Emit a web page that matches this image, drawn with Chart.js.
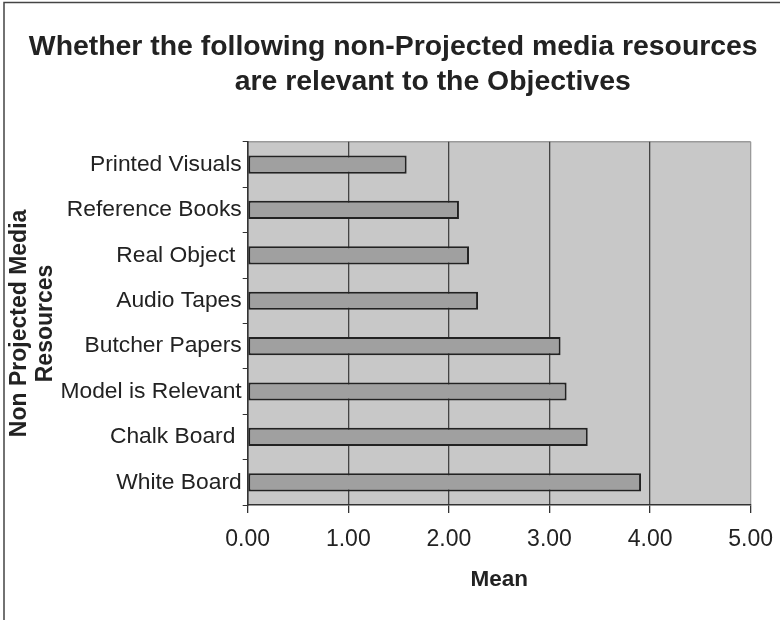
<!DOCTYPE html>
<html>
<head>
<meta charset="utf-8">
<script src="https://cdn.jsdelivr.net/npm/chart.js@4/dist/chart.umd.min.js"></script>
<style>
  html, body { margin: 0; padding: 0; background: #fff; }
  #wrap { width: 780px; height: 620px; }
</style>
</head>
<body>
<div id="wrap"><canvas id="chart" width="780" height="620"></canvas></div>
<script>
// second title line keeps its leading spaces, so it sits right of centre
const titleLines = ["Whether the following non-Projected media resources", "          are relevant to the Objectives"];
const resources = ["Printed Visuals", "Reference Books", "Real Object ", "Audio Tapes", "Butcher Papers", "Model is Relevant", "Chalk Board ", "White Board"];
const means = [1.58, 2.10, 2.20, 2.29, 3.11, 3.17, 3.38, 3.91];
const yTitle = ["Non Projected Media", "Resources"];
const xTitle = "Mean";

const FONT = "'Liberation Sans', Arial, sans-serif";
const INK = "#222";

// grey plot area under the grid, light top edge, and the frame round the figure
const plotBackground = {
  id: "plotBackground",
  beforeDraw(chart) {
    const { ctx, chartArea: a } = chart;
    ctx.save();
    ctx.fillStyle = "#c8c8c8";
    ctx.fillRect(a.left, a.top, a.right - a.left, a.bottom - a.top);
    ctx.strokeStyle = "#9a9a9a";
    ctx.lineWidth = 1.5;
    ctx.beginPath();
    ctx.moveTo(a.left, a.top);
    ctx.lineTo(a.right, a.top);
    ctx.stroke();
    ctx.restore();
  },
  afterDraw(chart) {
    const { ctx, width, height } = chart;
    ctx.save();
    ctx.strokeStyle = "#444";
    ctx.lineWidth = 1.5;
    ctx.beginPath();
    ctx.moveTo(4, height);
    ctx.lineTo(4, 2.5);
    ctx.lineTo(width, 2.5);
    ctx.stroke();
    ctx.restore();
  },
};

const ctx = document.getElementById("chart").getContext("2d");

const data = {
  labels: resources,
  datasets: [
    {
      label: xTitle,
      data: means,
      backgroundColor: "#a0a0a0",
      borderColor: "#222",
      borderWidth: 2,
      borderSkipped: false,
      barPercentage: 0.4,
      categoryPercentage: 1,
    },
  ],
};

const options = {
  indexAxis: "y",
  responsive: false,
  animation: false,
  layout: {
    padding: { left: 6.5, right: 0, top: 0, bottom: 0 },
  },
  scales: {
    x: {
      min: 0,
      max: 5,
      ticks: {
        stepSize: 1,
        padding: 13,
        color: INK,
        font: { family: FONT, size: 23 },
        maxRotation: 0,
        callback: v => Number(v).toFixed(2),
      },
      grid: {
        color: ctx => (ctx.tick && ctx.tick.value === 5 ? "#9a9a9a" : "#444"),
        tickColor: "#333",
        lineWidth: 1.3,
        tickLength: 8,
      },
      border: { color: "#333", width: 1.5 },
      title: {
        display: true,
        text: xTitle,
        color: INK,
        font: { family: FONT, size: 22.5, weight: "bold" },
        padding: { top: 0, bottom: 26.5 },
      },
      afterFit(scale) {
        scale.height = 115;
        scale.paddingRight = 29.3;
      },
    },
    y: {
      ticks: {
        padding: 1,
        color: INK,
        font: { family: FONT, size: 22.8 },
      },
      grid: {
        offset: true,
        drawOnChartArea: false,
        tickColor: "#333",
        tickLength: 5,
      },
      border: { color: "#333", width: 1.5 },
      title: {
        display: true,
        text: yTitle,
        color: INK,
        font: { family: FONT, size: 23, weight: "bold", lineHeight: 1.13 },
        padding: { top: 0, bottom: 0 },
      },
      afterFit(scale) {
        scale.width = 247.7 - 6.5;
      },
    },
  },
  plugins: {
    legend: { display: false },
    tooltip: { enabled: false },
    title: {
      display: true,
      text: titleLines,
      color: INK,
      font: { family: FONT, size: 28.4, weight: "bold", lineHeight: 1.23 },
      padding: { top: 29.5, bottom: 42.5 },
    },
  },
};

new Chart(ctx, {
  type: "bar",
  data: data,
  options: options,
  plugins: [plotBackground],
});
</script>
</body>
</html>
